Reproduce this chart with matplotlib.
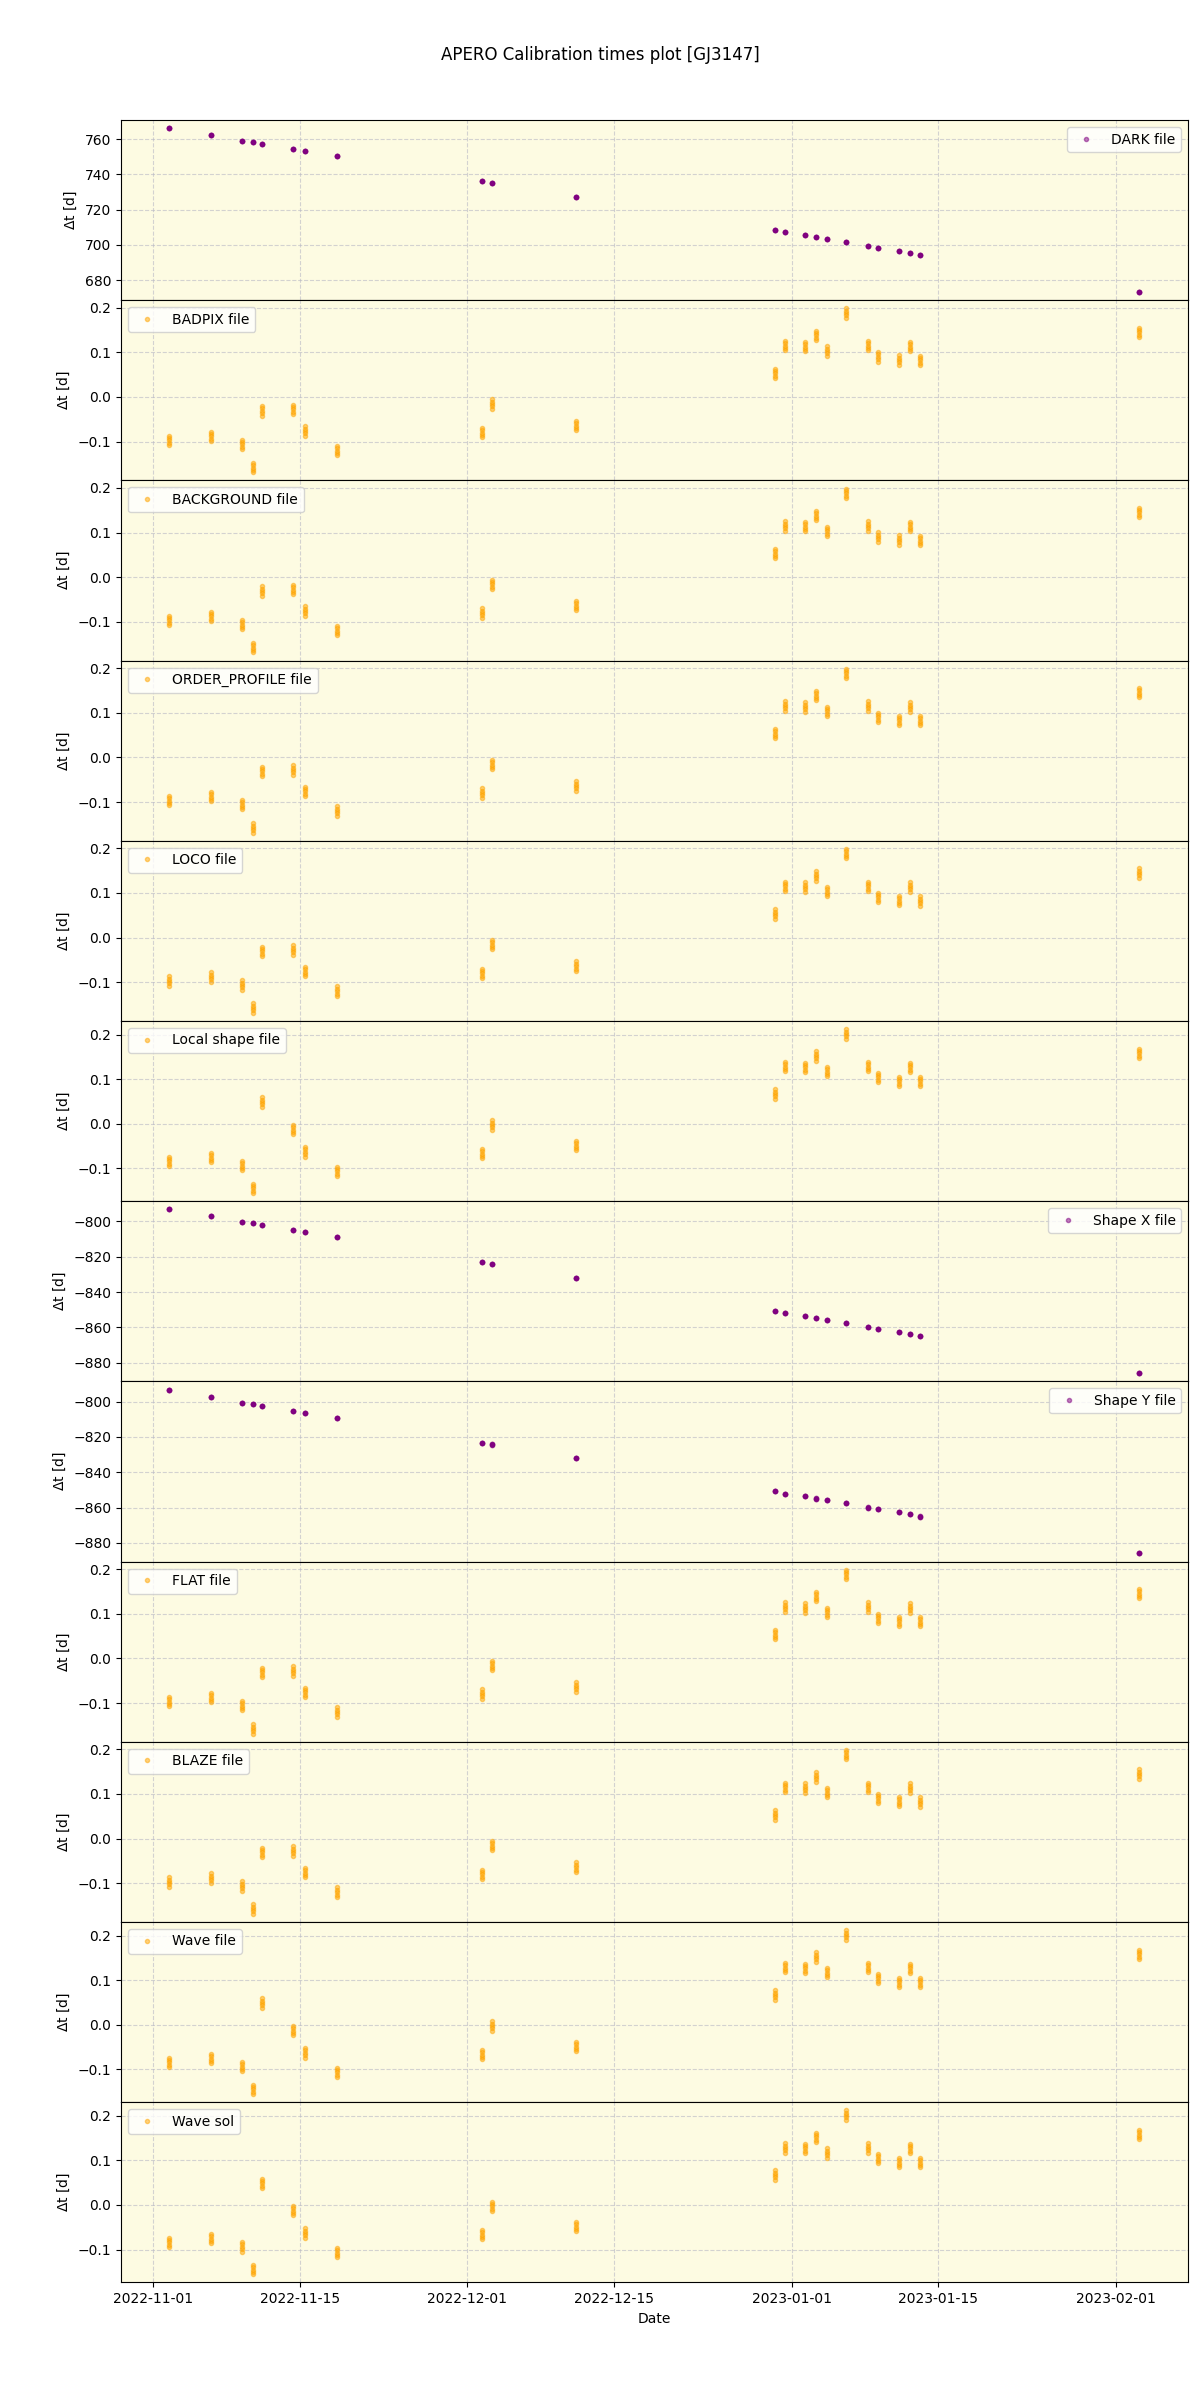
import numpy as np
import pandas as pd
import matplotlib
matplotlib.use('Agg')
import matplotlib.pyplot as plt

# observation nights (UT of the sequence)
obs_dates = pd.to_datetime([
    '2022-11-02 12:43', '2022-11-06 11:46', '2022-11-09 12:14', '2022-11-10 13:26',
    '2022-11-11 10:05', '2022-11-14 09:07', '2022-11-15 11:17', '2022-11-18 12:00',
    '2022-12-02 10:48', '2022-12-03 09:50', '2022-12-11 10:34',
    '2022-12-30 08:53', '2022-12-31 07:55', '2023-01-02 07:55', '2023-01-03 06:58',
    '2023-01-04 08:10', '2023-01-06 06:00', '2023-01-08 07:12', '2023-01-09 07:12',
    '2023-01-11 07:12', '2023-01-12 07:12', '2023-01-13 07:12', '2023-02-03 06:14'])

# offsets of the exposures inside one sequence [d]
exp_offsets = [-0.0105, -0.00525, 0.0, 0.00525, 0.0105]

# delta t per night [d]
dt_dark = [766.2, 762.3, 758.9, 758.3, 757.2, 754.3, 753.2, 750.4,
           736.2, 735.0, 727.1,
           708.4, 707.2, 705.5, 704.4, 703.3, 701.6, 699.3, 698.2,
           696.5, 695.3, 694.2, 673.2]
dt_shape_x = [-793.2, -797.2, -800.6, -801.1, -802.3, -805.1, -806.2, -809.1,
              -823.2, -824.3, -832.2,
              -850.9, -852.1, -853.7, -854.9, -856.0, -857.7, -860.0, -861.1,
              -862.8, -863.9, -865.1, -886.0]
dt_shape_y = [-793.2, -797.2, -800.6, -801.1, -802.3, -805.1, -806.2, -809.1,
              -823.2, -824.3, -832.2,
              -850.9, -852.1, -853.7, -854.9, -856.0, -857.7, -860.0, -861.1,
              -862.8, -863.9, -865.1, -886.0]
# BADPIX / BACKGROUND / ORDER_PROFILE / LOCO / FLAT / BLAZE
dt_master = [-0.097, -0.088, -0.106, -0.158, -0.031, -0.028, -0.076, -0.120,
             -0.080, -0.016, -0.064,
             0.053, 0.115, 0.113, 0.138, 0.103, 0.188, 0.115, 0.090,
             0.083, 0.113, 0.082, 0.145]
# Local shape / Wave file / Wave sol
dt_wave = [-0.084, -0.076, -0.094, -0.145, 0.049, -0.013, -0.063, -0.107,
           -0.067, -0.003, -0.049,
           0.067, 0.128, 0.127, 0.152, 0.117, 0.202, 0.128, 0.104,
           0.095, 0.127, 0.095, 0.158]

labels = ['DARK file', 'BADPIX file', 'BACKGROUND file', 'ORDER_PROFILE file',
          'LOCO file', 'Local shape file', 'Shape X file', 'Shape Y file',
          'FLAT file', 'BLAZE file', 'Wave file', 'Wave sol']
datasets = [dt_dark, dt_master, dt_master, dt_master, dt_master, dt_wave,
            dt_shape_x, dt_shape_y, dt_master, dt_master, dt_wave, dt_wave]
colors = ['purple', 'orange', 'orange', 'orange', 'orange', 'orange',
          'purple', 'purple', 'orange', 'orange', 'orange', 'orange']

fig, axes = plt.subplots(len(labels), 1, figsize=(12, 24), sharex=True)
plt.subplots_adjust(left=0.1008, right=0.99, top=0.95, bottom=0.049, hspace=0)
fig.suptitle('APERO Calibration times plot [GJ3147]', y=0.981)

xx = np.repeat(obs_dates.values, len(exp_offsets))
for ax, lab, dt, col in zip(axes, labels, datasets, colors):
    yy = (np.array(dt)[:, None] + np.array(exp_offsets)[None, :]).ravel()
    ax.set_facecolor('#fdfbe2')
    ax.plot(xx, yy, 'o', ms=3, color=col, alpha=0.5, label=lab)
    ax.grid(ls='--', color='#b8b8c4', alpha=0.6)
    ax.set_ylabel(r'$\Delta$t [d]')
    if col == 'purple':
        ax.legend(loc='upper right')
    else:
        ax.legend(loc='upper left')

axes[-1].set_xlabel('Date')

plt.savefig('out.png', dpi=100)
